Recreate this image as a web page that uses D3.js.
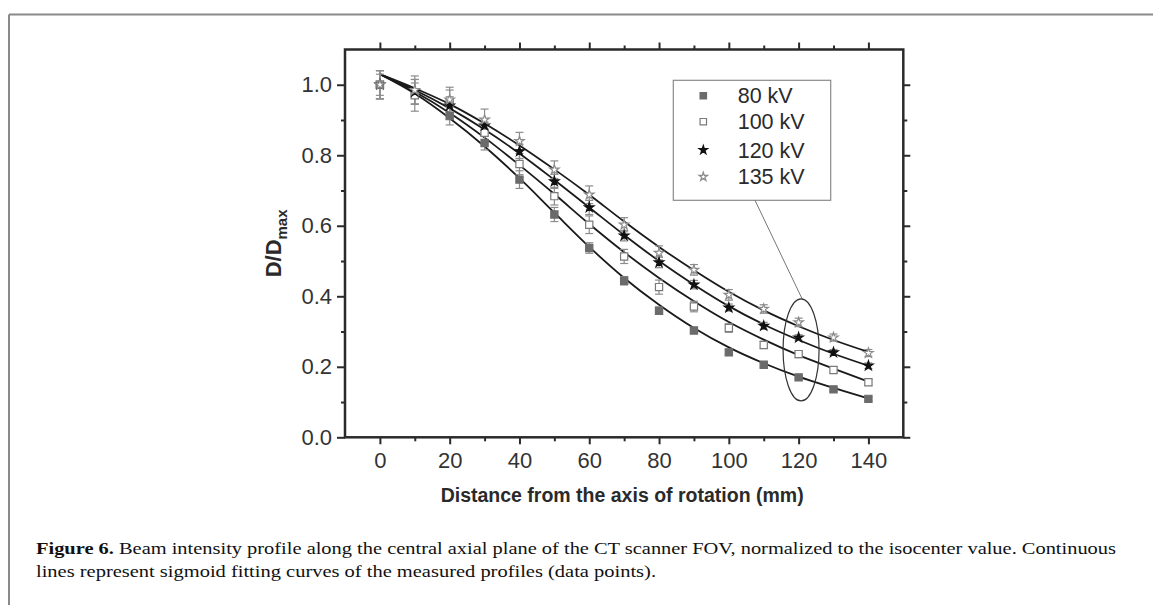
<!DOCTYPE html>
<html><head><meta charset="utf-8">
<script src="https://cdn.jsdelivr.net/npm/d3@7"></script>
<style>
html,body{margin:0;padding:0;background:#fff;}
svg{display:block;}
</style></head>
<body>
<script>
// ---- data ----
const distances = [0,10,20,30,40,50,60,70,80,90,100,110,120,130,140];
const seriesNames = ["80 kV","100 kV","120 kV","135 kV"];
const kv80  = [1.0,0.975,0.911,0.835,0.731,0.632,0.537,0.444,0.359,0.303,0.241,0.206,0.170,0.136,0.109];
const kv100 = [1.0,0.970,0.950,0.864,0.775,0.684,0.603,0.513,0.426,0.371,0.310,0.262,0.236,0.191,0.156];
const kv120 = [1.0,0.980,0.941,0.884,0.811,0.726,0.652,0.572,0.496,0.433,0.368,0.316,0.283,0.241,0.203];
const kv135 = [1.0,0.985,0.958,0.901,0.840,0.759,0.688,0.603,0.523,0.475,0.404,0.364,0.326,0.283,0.239];
const err80  = [0.04,0.03,0.025,0.02,0.025,0.02,0.015,0.012,0.01,0.008,0.008,0.006,0.006,0.006,0.005];
const err100 = [0.04,0.045,0.035,0.03,0.03,0.025,0.025,0.02,0.02,0.015,0.012,0.01,0.01,0.008,0.008];
const err120 = [0.03,0.035,0.025,0.02,0.02,0.02,0.02,0.015,0.015,0.012,0.01,0.01,0.008,0.008,0.008];
const err135 = [0.04,0.04,0.035,0.03,0.025,0.025,0.025,0.02,0.02,0.015,0.015,0.012,0.012,0.01,0.01];
// fitted sigmoid curves at each 10 mm
const fit80  = [1.03,0.975,0.905,0.825,0.735,0.637,0.54,0.452,0.376,0.31,0.255,0.21,0.172,0.14,0.11];
const fit100 = [1.03,0.98,0.92,0.85,0.772,0.69,0.605,0.525,0.452,0.386,0.327,0.277,0.233,0.195,0.158];
const fit120 = [1.03,0.985,0.933,0.873,0.805,0.73,0.652,0.574,0.5,0.433,0.372,0.32,0.276,0.237,0.203];
const fit135 = [1.03,0.99,0.945,0.89,0.828,0.76,0.688,0.612,0.54,0.474,0.413,0.36,0.315,0.276,0.242];
const xMajorTicks = [0,20,40,60,80,100,120,140];
const xMinorTicks = [10,30,50,70,90,110,130];
const yMajorTicks = [0.0,0.2,0.4,0.6,0.8,1.0];
const yMinorTicks = [0.1,0.3,0.5,0.7,0.9];
const xTitle = "Distance from the axis of rotation (mm)";
const captionBold = "Figure 6.";
const captionLine1 = " Beam intensity profile along the central axial plane of the CT scanner FOV, normalized to the isocenter value. Continuous";
const captionLine2 = "lines represent sigmoid fitting curves of the measured profiles (data points).";

const W = 1153, H = 605;
const svg = d3.select("body").append("svg").attr("width", W).attr("height", H);

// figure border (top and left)
svg.append("line").attr("x1",9).attr("y1",14.5).attr("x2",W).attr("y2",14.5).attr("stroke","#8a8a8a").attr("stroke-width",2);
svg.append("line").attr("x1",9).attr("y1",14.5).attr("x2",9).attr("y2",H).attr("stroke","#8a8a8a").attr("stroke-width",2);

const L = 345, R = 903.3, T = 49.5, B = 437.3;
const x = d3.scaleLinear().domain([-10,150]).range([L,R]);
const y = d3.scaleLinear().domain([0,1.1]).range([B,T]);

const axisColor = "#2a2a2a";
const font = "'Liberation Sans', Arial, sans-serif";

function styleAxis(g){
  g.selectAll(".domain").remove();
  g.selectAll("line").attr("stroke",axisColor).attr("stroke-width",2);
  g.selectAll("text").attr("fill","#333").style("font-family",font).style("font-size","22px");
}

// minor ticks
svg.append("g").attr("transform",`translate(0,${B})`).call(d3.axisBottom(x).tickValues(xMinorTicks).tickSize(4).tickFormat("")).call(styleAxis);
svg.append("g").attr("transform",`translate(0,${T})`).call(d3.axisTop(x).tickValues(xMinorTicks).tickSize(4).tickFormat("")).call(styleAxis);
svg.append("g").attr("transform",`translate(${L},0)`).call(d3.axisLeft(y).tickValues(yMinorTicks).tickSize(4).tickFormat("")).call(styleAxis);
svg.append("g").attr("transform",`translate(${R},0)`).call(d3.axisRight(y).tickValues(yMinorTicks).tickSize(4).tickFormat("")).call(styleAxis);
// major ticks
svg.append("g").attr("transform",`translate(0,${B})`).call(d3.axisBottom(x).tickValues(xMajorTicks).tickSize(7).tickPadding(8).tickFormat(d3.format("d"))).call(styleAxis);
svg.append("g").attr("transform",`translate(0,${T})`).call(d3.axisTop(x).tickValues(xMajorTicks).tickSize(7).tickFormat("")).call(styleAxis);
svg.append("g").attr("transform",`translate(${L},0)`).call(d3.axisLeft(y).tickValues(yMajorTicks).tickSize(8).tickPadding(5).tickFormat(d3.format(".1f"))).call(styleAxis);
svg.append("g").attr("transform",`translate(${R},0)`).call(d3.axisRight(y).tickValues(yMajorTicks).tickSize(7).tickFormat("")).call(styleAxis);

// frame
svg.append("rect").attr("x",L).attr("y",T).attr("width",R-L).attr("height",B-T)
  .attr("fill","none").attr("stroke",axisColor).attr("stroke-width",2.5);

// axis titles
svg.append("text").attr("x",(L+R)/2 - 2).attr("y",502).attr("text-anchor","middle")
  .style("font-family",font).style("font-weight","bold").style("font-size","19.5px").attr("fill","#2a2a2a").text(xTitle);
const yt = svg.append("text").attr("transform",`translate(281,${(T+B)/2}) rotate(-90)`).attr("text-anchor","middle")
  .style("font-family",font).style("font-weight","bold").style("font-size","22px").attr("fill","#2a2a2a");
yt.append("tspan").text("D/D");
yt.append("tspan").attr("dy",6).style("font-size","15px").text("max");

// fitted curves
const fits = [fit80, fit100, fit120, fit135];
const line = d3.line().x((d,i)=>x(distances[i])).y(d=>y(d)).curve(d3.curveMonotoneX);
const plot = svg.append("g");
fits.forEach(f=>{
  plot.append("path").attr("d",line(f)).attr("fill","none").attr("stroke","#1a1a1a").attr("stroke-width",1.8);
});

// error bars
const values = [kv80, kv100, kv120, kv135];
const errs = [err80, err100, err120, err135];
values.forEach((vals,si)=>{
  const g = plot.append("g").attr("stroke","#8c8c8c").attr("stroke-width",1.2);
  vals.forEach((v,i)=>{
    const e = errs[si][i];
    const cx = x(distances[i]);
    g.append("line").attr("x1",cx).attr("x2",cx).attr("y1",y(v-e)).attr("y2",y(v+e));
    g.append("line").attr("x1",cx-4).attr("x2",cx+4).attr("y1",y(v-e)).attr("y2",y(v-e));
    g.append("line").attr("x1",cx-4).attr("x2",cx+4).attr("y1",y(v+e)).attr("y2",y(v+e));
  });
});

// markers
const markerStyles = [
  {type:d3.symbolSquare, size:52, fill:"#6b6b6b", stroke:"#6b6b6b"},
  {type:d3.symbolSquare, size:52, fill:"#fff", stroke:"#7a7a7a"},
  {type:d3.symbolStar, size:28, fill:"#111", stroke:"#111"},
  {type:d3.symbolStar, size:28, fill:"#fff", stroke:"#8a8a8a"}
];
values.forEach((vals,si)=>{
  const ms = markerStyles[si];
  plot.append("g").selectAll("path").data(vals).join("path")
    .attr("transform",(d,i)=>`translate(${x(distances[i])},${y(d)})`)
    .attr("d",d3.symbol().type(ms.type).size(ms.size))
    .attr("fill",ms.fill).attr("stroke",ms.stroke).attr("stroke-width",1.2);
});

// legend
const lg = svg.append("g");
lg.append("rect").attr("x",673.3).attr("y",80.3).attr("width",157.4).attr("height",120)
  .attr("fill","#fff").attr("stroke","#8a8a8a").attr("stroke-width",1.2);
const rowY = [95.7,121.7,150,176.7];
seriesNames.forEach((n,i)=>{
  const ms = markerStyles[i];
  lg.append("path").attr("transform",`translate(703.3,${rowY[i]})`)
    .attr("d",d3.symbol().type(ms.type).size(ms.size*0.8))
    .attr("fill",ms.fill).attr("stroke",ms.stroke).attr("stroke-width",1.2);
  lg.append("text").attr("x",737.7).attr("y",rowY[i]+7.5).style("font-family",font).style("font-size","21.5px")
    .attr("fill","#2a2a2a").text(n);
});

// callout ellipse and line
svg.append("line").attr("x1",755).attr("y1",200.3).attr("x2",x(121)).attr("y2",y(0.248)-51)
  .attr("stroke","#777").attr("stroke-width",1);
svg.append("ellipse").attr("cx",x(120.7)).attr("cy",y(0.248)).attr("rx",18).attr("ry",51)
  .attr("fill","none").attr("stroke","#333").attr("stroke-width",1.2);

// caption
const serif = "'Liberation Serif', 'Times New Roman', serif";
const c1 = svg.append("text").attr("x",36).attr("y",554).style("font-family",serif).style("font-size","17px").attr("fill","#111")
  .attr("textLength",1080).attr("lengthAdjust","spacingAndGlyphs");
c1.append("tspan").style("font-weight","bold").text(captionBold);
c1.append("tspan").text(captionLine1);
svg.append("text").attr("x",36).attr("y",577).style("font-family",serif).style("font-size","17px").attr("fill","#111")
  .attr("textLength",620).attr("lengthAdjust","spacingAndGlyphs").text(captionLine2);
</script>
</body></html>
